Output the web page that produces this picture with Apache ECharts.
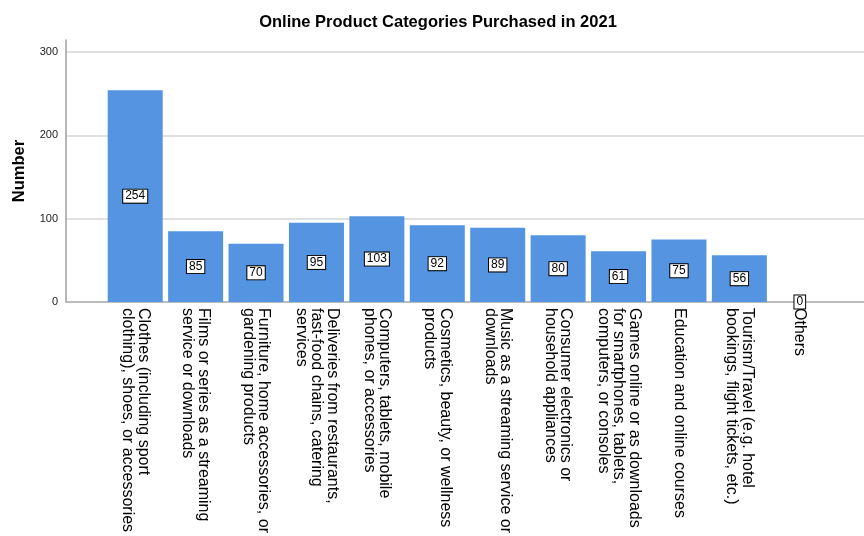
<!DOCTYPE html>
<html>
<head>
<meta charset="utf-8">
<script src="https://cdn.jsdelivr.net/npm/echarts@6/dist/echarts.min.js"></script>
<style>
  html, body { margin: 0; padding: 0; background: #fff; }
  #chart { width: 864px; height: 536px; }
</style>
</head>
<body>
<div id="chart"></div>
<script>
// Product categories (line breaks as they wrap under the axis)
const categories = [
  "Clothes (including sport\nclothing), shoes, or accessories",
  "Films or series as a streaming\nservice or downloads",
  "Furniture, home accessories, or\ngardening products",
  "Deliveries from restaurants,\nfast-food chains, catering\nservices",
  "Computers, tablets, mobile\nphones, or accessories",
  "Cosmetics, beauty, or wellness\nproducts",
  "Music as a streaming service or\ndownloads",
  "Consumer electronics or\nhousehold appliances",
  "Games online or as downloads\nfor smartphones, tablets,\ncomputers, or consoles",
  "Education and online courses",
  "Tourism/Travel (e.g. hotel\nbookings, flight tickets, etc.)",
  "Others"
];

// Number of respondents per category
const counts = [254, 85, 70, 95, 103, 92, 89, 80, 61, 75, 56, 0];

const yMin = 0;
const yMax = 300;
const yStep = 100;

const FONT = "'Liberation Sans', Arial, sans-serif";

const chart = echarts.init(document.getElementById('chart'), null, { renderer: 'canvas' });

chart.setOption({
  animation: false,
  backgroundColor: '#ffffff',
  title: {
    text: 'Online Product Categories Purchased in 2021',
    left: 433,
    textAlign: 'center',
    top: 9,
    textStyle: { fontFamily: FONT, fontSize: 16.5, fontWeight: 'bold', color: '#000' }
  },
  grid: [
    // frame: value scale, gridlines and baseline
    { left: 66, right: 0, top: 52, height: 250 },
    // vertical axis line, slightly taller than the scale
    { left: 66, width: 1, top: 40, height: 262 },
    // bars
    { left: 105, right: 34, top: 52, height: 250 }
  ],
  xAxis: [
    {
      gridIndex: 0, type: 'value', min: 0, max: 1,
      axisLine: { show: true, lineStyle: { color: '#b0b0b0', width: 1.5 } },
      axisTick: { show: false }, axisLabel: { show: false }, splitLine: { show: false }
    },
    {
      gridIndex: 1, type: 'value', min: 0, max: 1, show: false
    },
    {
      gridIndex: 2, type: 'category', data: categories,
      axisLine: { show: false }, axisTick: { show: false },
      axisLabel: {
        interval: 0, rotate: -90, margin: 6,
        fontFamily: FONT, fontSize: 16, lineHeight: 15.5, color: '#000'
      }
    }
  ],
  yAxis: [
    {
      gridIndex: 0, type: 'value', min: yMin, max: yMax, interval: yStep,
      axisLine: { show: false }, axisTick: { show: false },
      axisLabel: { fontFamily: FONT, fontSize: 11, color: '#222', margin: 8 },
      splitLine: { show: true, lineStyle: { color: '#d6d6d6', width: 1.5 } }
    },
    {
      gridIndex: 1, type: 'value', min: 0, max: 1,
      name: 'Number', nameLocation: 'middle', nameGap: 38,
      nameTextStyle: { fontFamily: FONT, fontSize: 16.5, fontWeight: 'bold', color: '#000' },
      axisLine: { show: true, lineStyle: { color: '#a0a0a0', width: 1.5 } },
      axisTick: { show: false }, axisLabel: { show: false }, splitLine: { show: false }
    },
    {
      gridIndex: 2, type: 'value', min: yMin, max: yMax, interval: yStep, show: false,
      splitLine: { show: false }
    }
  ],
  series: [
    {
      type: 'bar',
      xAxisIndex: 2, yAxisIndex: 2,
      data: counts,
      barWidth: 55,
      itemStyle: { color: '#5594e1', borderWidth: 0 },
      label: {
        show: true, position: 'inside',
        fontFamily: FONT, fontSize: 12, color: '#000',
        backgroundColor: '#fff', borderColor: '#000', borderWidth: 1,
        padding: [1, 2, 0, 2]
      }
    }
  ]
});
</script>
</body>
</html>
